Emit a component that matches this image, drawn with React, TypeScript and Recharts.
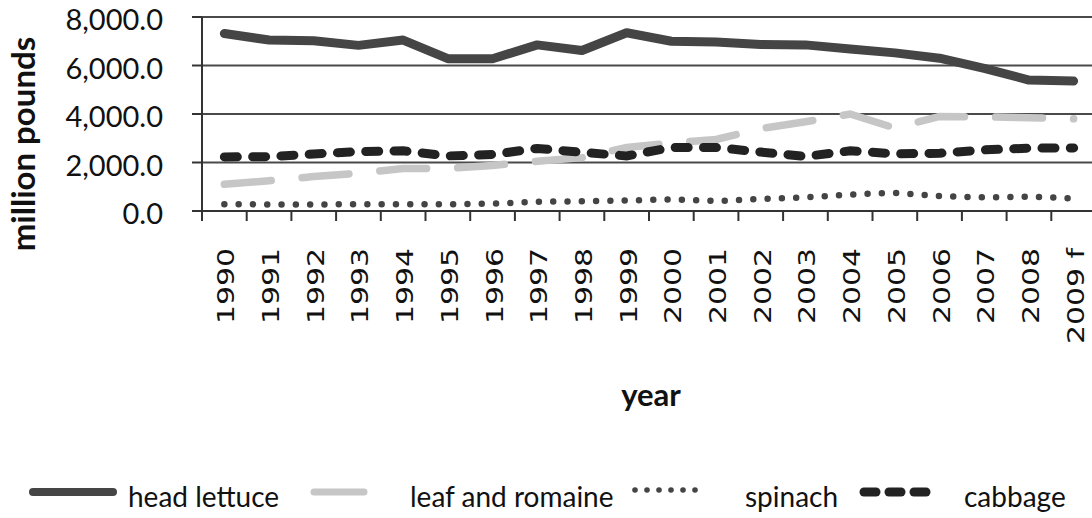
import { LineChart, Line, XAxis, YAxis, CartesianGrid, Legend } from "recharts";

// categories
const years = [
  "1990", "1991", "1992", "1993", "1994", "1995", "1996", "1997", "1998", "1999",
  "2000", "2001", "2002", "2003", "2004", "2005", "2006", "2007", "2008", "2009 f",
];

// million pounds
const headLettuce = [7320, 7050, 7020, 6830, 7050, 6280, 6280, 6850, 6620, 7350, 7000, 6970, 6870, 6850, 6680, 6520, 6300, 5880, 5400, 5360];
const leafRomaine = [1100, 1250, 1420, 1560, 1750, 1760, 1880, 2050, 2200, 2620, 2800, 2950, 3400, 3680, 4000, 3420, 3900, 3880, 3850, 3800];
const spinach = [280, 270, 270, 280, 280, 275, 300, 380, 400, 430, 480, 410, 500, 560, 680, 750, 620, 560, 590, 520];
const cabbage = [2230, 2240, 2350, 2450, 2480, 2270, 2330, 2580, 2420, 2270, 2620, 2620, 2430, 2250, 2480, 2360, 2380, 2520, 2590, 2600];

const yTicks = [0, 2000, 4000, 6000, 8000];

const CHART_W = 1100;
const CHART_H = 518;
const MARGIN = { top: 17, right: 4, left: 0, bottom: 0 };
const Y_AXIS_W = 202;
const LEGEND_H = 48;
const X_AXIS_H = 259;
const BAND = (CHART_W - MARGIN.left - MARGIN.right - Y_AXIS_W) / years.length;

const data = years.map((year, i) => ({
  year,
  head: headLettuce[i],
  leaf: leafRomaine[i],
  spinach: spinach[i],
  cabbage: cabbage[i],
}));

const fmt = (v: number) =>
  v.toLocaleString("en-US", { minimumFractionDigits: 1, maximumFractionDigits: 1 });

const XTick = (props: any) => {
  const { x, y, payload } = props;
  const bx = x - BAND / 2;
  const tx = x + 10;
  const ty = y + 37;
  return (
    <g>
      <line x1={bx} x2={bx} y1={y - 1} y2={y + 10} stroke="#333" strokeWidth={2} />
      <text
        x={0}
        y={0}
        transform={`translate(${tx}, ${ty}) rotate(-90) scale(1.3, 1)`}
        textAnchor="end"
        fontFamily="DejaVu Sans"
        fontSize={23}
        fill="#111"
      >
        {payload.value}
      </text>
    </g>
  );
};

const YTitle = () => {
  const cx = 35;
  const cy = 144;
  return (
    <text
      x={cx}
      y={cy}
      transform={`rotate(-90, ${cx}, ${cy})`}
      textAnchor="middle"
      fontFamily="Lato"
      fontWeight="bold"
      fontSize={33}
      fill="#111"
    >
      million pounds
    </text>
  );
};

const XTitle = (props: any) => {
  const vb = props.viewBox;
  return (
    <text
      x={vb.x + vb.width / 2 + 2}
      y={406}
      textAnchor="middle"
      fontFamily="Lato"
      fontWeight="bold"
      fontSize={31}
      fill="#111"
    >
      year
    </text>
  );
};

const LegendBox = () => {
  const cy = 22;
  const dots = [0, 1, 2, 3, 4, 5];
  const dashes = [0, 1, 2];
  const txt = { fontFamily: "Lato", fontSize: 28, fill: "#111" };
  return (
    <svg width={CHART_W} height={LEGEND_H} style={{ display: "block" }}>
      <line x1={33} x2={113} y1={cy} y2={cy} stroke="#454545" strokeWidth={8} strokeLinecap="round" />
      <text x={128} y={37} {...txt}>head lettuce</text>
      <line x1={314} x2={364} y1={cy} y2={cy} stroke="#c6c6c6" strokeWidth={7} strokeLinecap="round" />
      <text x={410} y={37} {...txt}>leaf and romaine</text>
      {dots.map((d) => (
        <circle key={d} cx={635 + d * 12} cy={cy - 2} r={2.8} fill="#444" />
      ))}
      <text x={745} y={37} {...txt}>spinach</text>
      {dashes.map((d) => (
        <line key={d} x1={864 + d * 25} x2={876 + d * 25} y1={cy} y2={cy} stroke="#222" strokeWidth={9} strokeLinecap="round" />
      ))}
      <text x={964} y={37} {...txt}>cabbage</text>
    </svg>
  );
};

export default function App() {
  return (
    <div
      style={{
        position: "absolute",
        left: 0,
        top: 0,
        width: 1092,
        height: 518,
        overflow: "hidden",
        background: "#fff",
        fontFamily: "Lato",
      }}
    >
      <LineChart width={CHART_W} height={CHART_H} data={data} margin={MARGIN}>
        <CartesianGrid horizontal vertical={false} stroke="#4a4a4a" strokeWidth={2} />
        <XAxis
          dataKey="year"
          height={X_AXIS_H}
          interval={0}
          padding={{ left: BAND / 2, right: BAND / 2 }}
          tickLine={false}
          tickSize={0}
          tickMargin={0}
          axisLine={{ stroke: "#333", strokeWidth: 2 }}
          tick={<XTick />}
          label={<XTitle />}
        />
        <YAxis
          width={Y_AXIS_W}
          domain={[0, 8000]}
          ticks={yTicks}
          tickFormatter={fmt}
          tickSize={10}
          tickMargin={29}
          tickLine={{ stroke: "#333", strokeWidth: 2 }}
          axisLine={{ stroke: "#333", strokeWidth: 2 }}
          tick={{ fontFamily: "Lato", fontSize: 29, fill: "#111", dy: 3 }}
          label={<YTitle />}
        />
        <Legend verticalAlign="bottom" height={LEGEND_H} content={<LegendBox />} />
        <Line
          type="linear"
          dataKey="head"
          name="head lettuce"
          stroke="#454545"
          strokeWidth={9}
          strokeLinecap="round"
          strokeLinejoin="round"
          dot={false}
          activeDot={false}
          isAnimationActive={false}
        />
        <Line
          type="linear"
          dataKey="leaf"
          name="leaf and romaine"
          stroke="#c6c6c6"
          strokeWidth={7.5}
          strokeDasharray="47 31"
          strokeLinecap="round"
          dot={false}
          activeDot={false}
          isAnimationActive={false}
        />
        <Line
          type="linear"
          dataKey="spinach"
          name="spinach"
          stroke="#444"
          strokeWidth={6.5}
          strokeDasharray="0 14.3"
          strokeLinecap="round"
          dot={false}
          activeDot={false}
          isAnimationActive={false}
        />
        <Line
          type="linear"
          dataKey="cabbage"
          name="cabbage"
          stroke="#222"
          strokeWidth={9}
          strokeDasharray="13 15.3"
          strokeLinecap="round"
          dot={false}
          activeDot={false}
          isAnimationActive={false}
        />
      </LineChart>
    </div>
  );
}
